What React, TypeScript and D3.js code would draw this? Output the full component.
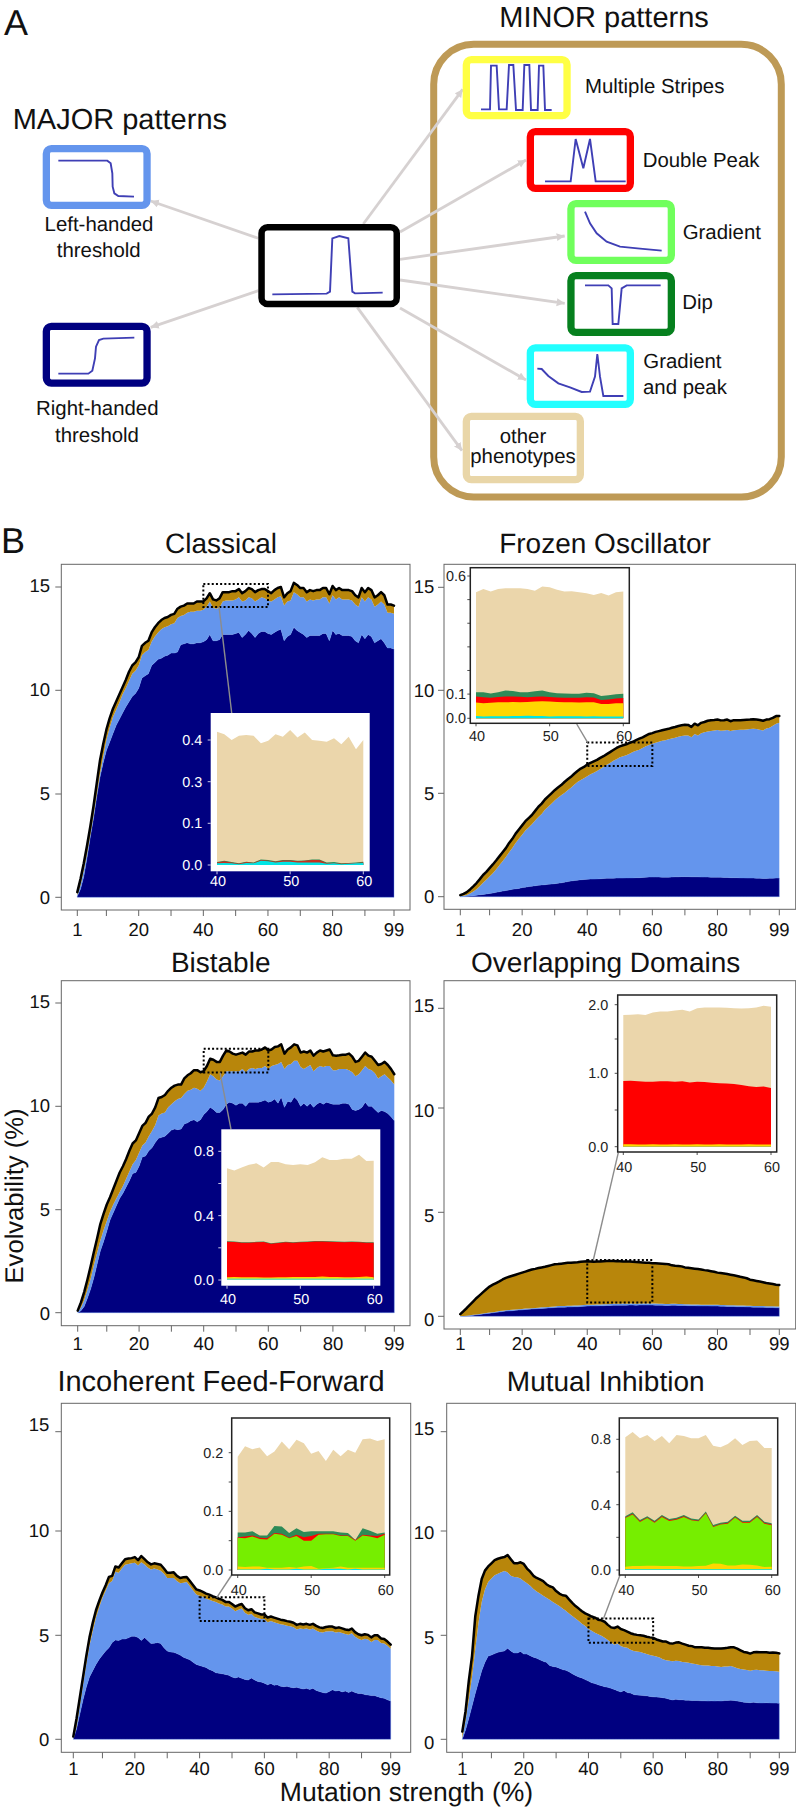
import React from "react";
import * as d3 from "d3";

const FONT = "'Liberation Sans', Arial, sans-serif";
const NAVY = "#000080";
const BLUE = "#6495ED";
const BROWN = "#B8860B";
const WHEAT = "#EBD6AB";
const TURQ = "#00E5E5";
const GOLD = "#FFD700";
const LIME = "#76EE00";
const RED = "#FF0000";
const SEA = "#2E8B57";

const strengths = d3.range(1, 100);
const insetStrengths = d3.range(40, 61);
const xTickValues = [1, 10, 20, 30, 40, 50, 60, 70, 80, 90, 99];
const xTickLabels = [1, 20, 40, 60, 80, 99];
const yTickValues = [0, 5, 10, 15];

// ---- Classical
const classicalTotal = [
  0.25,0.9,1.65,2.5,3.4,4.4,5.5,6.6,7.4,8.1,
  8.65,9.1,9.45,9.8,10.15,10.5,10.9,11.2,11.35,11.6,
  12.15,12.3,12.4,12.8,13.05,13.25,13.4,13.5,13.55,13.65,
  13.7,13.95,14.05,14.1,14.2,14.2,14.2,14.3,14.3,14.3,
  14.45,14.7,14.4,14.35,14.45,14.75,14.75,14.75,14.8,14.8,
  14.9,14.7,14.8,14.95,14.9,14.75,14.85,14.9,14.9,14.8,
  14.7,14.85,14.95,15.0,14.5,14.7,14.8,15.2,15.1,14.95,
  14.95,14.75,14.85,14.8,14.85,14.85,14.95,14.95,14.65,15.05,
  14.85,14.95,14.85,14.85,14.85,14.8,14.6,14.5,14.95,14.75,
  14.95,14.85,14.5,14.6,14.75,14.6,14.15,14.15,14.1];
const classicalBlue = [
  0.1,0.6,1.3,2.1,3.0,3.95,4.95,5.95,6.8,7.6,
  8.2,8.7,9.05,9.4,9.8,10.1,10.45,10.8,10.95,11.2,
  11.7,11.85,11.95,12.35,12.6,12.8,12.95,13.05,13.1,13.2,
  13.25,13.5,13.6,13.65,13.75,13.8,13.8,13.85,13.85,13.9,
  14.05,14.3,14.0,13.95,14.0,14.3,14.35,14.35,14.35,14.4,
  14.5,14.3,14.35,14.5,14.45,14.3,14.4,14.5,14.45,14.35,
  14.3,14.4,14.5,14.55,14.1,14.3,14.35,14.75,14.65,14.5,
  14.5,14.3,14.4,14.35,14.4,14.4,14.5,14.5,14.2,14.6,
  14.4,14.5,14.4,14.4,14.4,14.35,14.15,14.05,14.5,14.3,
  14.5,14.4,14.05,14.15,14.3,14.15,13.75,13.75,13.7];
const classicalNavy = [
  0.05,0.4,1.0,1.9,2.9,3.8,4.85,5.8,6.5,7.1,
  7.5,7.9,8.3,8.6,8.9,9.2,9.45,9.7,9.85,10.1,
  10.6,10.7,10.8,11.2,11.35,11.5,11.55,11.65,11.7,11.8,
  11.8,11.85,12.2,12.25,12.3,12.25,12.25,12.3,12.3,12.35,
  12.45,12.7,12.4,12.4,12.45,12.7,12.7,12.7,12.7,12.75,
  12.8,12.55,12.7,12.9,12.75,12.55,12.75,12.85,12.85,12.75,
  12.7,12.8,12.9,12.95,12.4,12.6,12.7,13.05,12.9,12.8,
  12.7,12.55,12.65,12.65,12.65,12.65,12.75,12.75,12.4,12.9,
  12.7,12.75,12.65,12.65,12.65,12.6,12.4,12.3,12.7,12.5,
  12.7,12.6,12.3,12.4,12.5,12.3,12.05,12.05,12.0];

// ---- Frozen Oscillator
const frozenTotal = [
  0.08,0.14,0.22,0.35,0.5,0.66,0.85,1.05,1.2,1.38,
  1.56,1.75,1.95,2.15,2.35,2.6,2.8,3.05,3.25,3.45,
  3.65,3.8,3.95,4.15,4.35,4.5,4.7,4.85,5.0,5.15,
  5.28,5.4,5.55,5.68,5.8,5.95,6.08,6.2,6.28,6.4,
  6.48,6.55,6.62,6.72,6.8,6.9,7.0,7.1,7.2,7.28,
  7.33,7.38,7.45,7.5,7.58,7.65,7.72,7.8,7.88,7.92,
  7.98,8.02,8.06,8.1,8.13,8.18,8.22,8.27,8.3,8.33,
  8.32,8.22,8.38,8.3,8.42,8.46,8.52,8.55,8.56,8.58,
  8.54,8.55,8.58,8.5,8.55,8.55,8.55,8.56,8.57,8.58,
  8.6,8.58,8.56,8.52,8.58,8.6,8.66,8.75,8.75];
const frozenBlue = [
  0.02,0.04,0.08,0.15,0.25,0.36,0.5,0.68,0.82,0.98,
  1.14,1.32,1.52,1.72,1.92,2.15,2.35,2.6,2.8,3.0,
  3.2,3.35,3.5,3.68,3.85,4.0,4.2,4.35,4.5,4.65,
  4.78,4.9,5.02,5.15,5.27,5.42,5.55,5.65,5.73,5.83,
  5.93,6.0,6.08,6.18,6.28,6.38,6.47,6.58,6.65,6.75,
  6.8,6.85,6.92,7.0,7.06,7.12,7.2,7.28,7.35,7.4,
  7.45,7.5,7.55,7.58,7.62,7.66,7.7,7.75,7.78,7.8,
  7.8,7.72,7.88,7.8,7.92,7.96,8.0,8.03,8.05,8.07,
  8.04,8.05,8.07,8.02,8.06,8.07,8.08,8.09,8.1,8.12,
  8.13,8.12,8.08,8.05,8.15,8.18,8.28,8.38,8.42];
const frozenNavy = [
  0,0.01,0.02,0.03,0.05,0.07,0.09,0.11,0.13,0.16,
  0.18,0.21,0.24,0.27,0.3,0.33,0.36,0.38,0.4,0.44,
  0.46,0.49,0.51,0.53,0.55,0.57,0.58,0.6,0.61,0.63,
  0.65,0.67,0.7,0.73,0.76,0.78,0.8,0.82,0.83,0.84,
  0.85,0.85,0.86,0.87,0.88,0.89,0.89,0.89,0.9,0.9,
  0.9,0.91,0.91,0.91,0.92,0.92,0.93,0.94,0.95,0.95,
  0.95,0.95,0.94,0.94,0.94,0.95,0.96,0.96,0.97,0.97,
  0.97,0.96,0.96,0.96,0.95,0.95,0.95,0.94,0.94,0.94,
  0.94,0.93,0.93,0.92,0.92,0.92,0.91,0.91,0.9,0.9,
  0.9,0.89,0.89,0.88,0.88,0.89,0.89,0.9,0.9];

// ---- Bistable
const bistableTotal = [
  0.1,0.5,1.0,1.6,2.25,2.95,3.6,4.3,4.8,5.25,
  5.6,6.0,6.4,6.8,7.1,7.45,7.85,8.2,8.35,8.7,
  9.05,9.2,9.5,9.65,9.95,10.4,10.45,10.55,10.75,10.9,
  11.0,11.05,11.05,11.35,11.5,11.6,11.75,11.75,11.65,11.7,
  11.95,12.3,12.25,12.15,12.15,12.45,12.7,12.65,12.55,12.5,
  12.55,12.6,12.5,12.65,12.65,12.7,12.7,12.75,12.85,12.7,
  12.75,12.87,12.9,13.0,12.55,12.75,12.85,13.0,12.95,12.6,
  12.65,12.6,12.7,12.45,12.6,12.7,12.65,12.7,12.75,12.47,
  12.45,12.47,12.5,12.5,12.55,12.4,12.15,12.2,12.4,12.6,
  12.45,12.4,12.2,12.0,12.05,12.15,12.0,11.8,11.55];
const bistableBlue = [
  0.03,0.25,0.6,1.1,1.65,2.3,2.9,3.5,4.0,4.45,
  4.9,5.25,5.55,5.85,6.15,6.5,6.85,7.2,7.4,7.75,
  8.1,8.25,8.55,8.8,9.1,9.55,9.65,9.7,9.95,10.1,
  10.25,10.35,10.4,10.6,10.75,10.8,10.9,10.85,10.75,10.9,
  11.2,11.55,11.45,11.3,11.25,11.45,11.7,11.7,11.7,11.7,
  11.7,11.8,11.65,11.8,11.85,11.8,11.85,11.85,11.95,11.8,
  11.95,12.0,12.05,12.15,11.8,12.0,12.05,12.2,12.2,11.9,
  11.8,11.9,12.0,11.7,11.85,11.95,11.9,11.95,11.95,11.75,
  11.75,11.8,11.8,11.8,11.75,11.65,11.45,11.55,11.75,11.95,
  11.8,11.75,11.6,11.35,11.45,11.55,11.4,11.25,11.05];
const bistableNavy = [
  0.0,0.1,0.3,0.7,1.15,1.7,2.35,3.0,3.45,3.95,
  4.5,4.85,5.2,5.55,5.8,6.1,6.4,6.75,6.8,7.1,
  7.55,7.6,7.85,8.0,8.25,8.45,8.5,8.55,8.7,8.85,
  8.9,8.87,8.9,9.15,9.2,9.3,9.35,9.25,9.35,9.6,
  9.75,9.95,9.85,9.7,9.7,9.85,10.1,10.2,10.15,10.05,
  10.15,10.15,10.0,10.2,10.2,10.2,10.2,10.25,10.3,10.2,
  10.25,10.35,10.15,10.45,9.95,10.25,10.2,10.45,10.3,10.0,
  10.15,10.0,10.15,9.95,10.1,10.2,10.1,10.2,10.15,10.1,
  10.1,10.1,10.15,10.15,10.1,9.85,9.8,9.85,9.95,10.2,
  10.0,10.0,9.85,9.7,9.8,9.75,9.65,9.5,9.3];

// ---- Overlapping Domains
const overlapTotal = [
  0.1,0.25,0.4,0.56,0.72,0.88,1.02,1.16,1.3,1.43,
  1.52,1.6,1.68,1.77,1.85,1.9,1.95,2.0,2.05,2.1,
  2.15,2.2,2.25,2.28,2.32,2.35,2.38,2.42,2.46,2.5,
  2.51,2.53,2.55,2.57,2.58,2.59,2.6,2.62,2.64,2.65,
  2.64,2.62,2.63,2.64,2.65,2.66,2.66,2.66,2.65,2.65,
  2.64,2.63,2.63,2.62,2.61,2.6,2.59,2.58,2.57,2.55,
  2.55,2.54,2.53,2.52,2.5,2.45,2.43,2.42,2.4,2.35,
  2.33,2.31,2.29,2.27,2.25,2.22,2.2,2.17,2.14,2.1,
  2.08,2.06,2.03,2.0,1.97,1.94,1.9,1.87,1.83,1.76,
  1.73,1.7,1.67,1.64,1.6,1.58,1.55,1.52,1.5];
const overlapBlue = [
  0.01,0.02,0.03,0.05,0.07,0.09,0.11,0.13,0.16,0.18,
  0.2,0.22,0.25,0.27,0.29,0.3,0.31,0.33,0.34,0.35,
  0.37,0.38,0.39,0.4,0.41,0.43,0.44,0.45,0.46,0.47,
  0.49,0.5,0.5,0.51,0.51,0.52,0.52,0.53,0.54,0.55,
  0.56,0.56,0.57,0.57,0.58,0.58,0.59,0.6,0.6,0.6,
  0.61,0.6,0.61,0.61,0.6,0.61,0.62,0.62,0.62,0.62,
  0.61,0.6,0.6,0.59,0.59,0.6,0.6,0.59,0.59,0.58,
  0.58,0.57,0.57,0.57,0.56,0.56,0.56,0.55,0.55,0.55,
  0.54,0.54,0.53,0.53,0.53,0.52,0.52,0.52,0.51,0.51,
  0.5,0.5,0.49,0.49,0.48,0.48,0.48,0.47,0.47];
const overlapNavy = [
  0,0.01,0.02,0.03,0.05,0.07,0.09,0.11,0.13,0.15,
  0.17,0.19,0.21,0.23,0.25,0.26,0.27,0.29,0.3,0.31,
  0.33,0.34,0.35,0.36,0.37,0.38,0.39,0.4,0.41,0.42,
  0.43,0.44,0.44,0.45,0.45,0.46,0.46,0.47,0.48,0.49,
  0.5,0.5,0.5,0.51,0.51,0.52,0.52,0.53,0.53,0.53,
  0.53,0.53,0.54,0.54,0.53,0.54,0.54,0.54,0.54,0.54,
  0.53,0.53,0.53,0.52,0.52,0.53,0.53,0.52,0.52,0.52,
  0.51,0.51,0.51,0.5,0.5,0.5,0.5,0.49,0.49,0.49,
  0.48,0.48,0.47,0.47,0.47,0.46,0.46,0.46,0.45,0.45,
  0.44,0.44,0.43,0.43,0.42,0.42,0.42,0.41,0.41];

// ---- Incoherent Feed-Forward
const iffTotal = [
  0.13,1.0,2.0,3.0,4.0,4.9,5.6,6.2,6.65,7.05,
  7.4,7.8,7.85,8.3,8.25,8.45,8.65,8.68,8.7,8.75,
  8.6,8.8,8.65,8.5,8.4,8.45,8.42,8.38,8.2,8.0,
  8.0,8.02,7.85,7.75,7.78,7.8,7.6,7.4,7.2,7.15,
  7.08,7.0,6.95,6.88,6.82,6.75,6.7,6.6,6.6,6.5,
  6.38,6.45,6.5,6.3,6.2,6.25,6.1,6.05,6.0,6.0,
  5.85,5.9,5.85,5.8,5.75,5.72,5.68,5.65,5.6,5.5,
  5.55,5.52,5.55,5.5,5.55,5.45,5.38,5.35,5.4,5.42,
  5.42,5.35,5.38,5.33,5.28,5.25,5.32,5.15,5.05,5.0,
  5.05,5.02,4.9,5.0,5.0,4.85,4.82,4.7,4.55];
const iffBlue = [
  0.03,0.6,1.6,2.6,3.6,4.5,5.2,5.85,6.35,6.8,
  7.15,7.5,7.6,8.05,8.0,8.2,8.38,8.42,8.45,8.48,
  8.35,8.5,8.4,8.25,8.15,8.2,8.15,8.1,7.95,7.75,
  7.75,7.75,7.6,7.5,7.52,7.55,7.35,7.15,6.95,6.9,
  6.85,6.75,6.7,6.65,6.6,6.52,6.48,6.38,6.38,6.28,
  6.15,6.22,6.28,6.08,5.98,6.02,5.88,5.83,5.78,5.78,
  5.63,5.68,5.63,5.58,5.53,5.5,5.46,5.43,5.38,5.28,
  5.33,5.3,5.33,5.28,5.33,5.23,5.16,5.13,5.18,5.2,
  5.2,5.13,5.16,5.11,5.06,5.03,5.1,4.93,4.83,4.78,
  4.83,4.8,4.68,4.78,4.78,4.63,4.6,4.5,4.35];
const iffNavy = [
  0,0.5,1.2,1.9,2.5,3.0,3.3,3.6,3.85,4.05,
  4.25,4.4,4.65,4.78,4.75,4.82,4.82,4.88,4.95,4.95,
  4.9,4.75,4.9,4.75,4.6,4.62,4.65,4.6,4.4,4.25,
  4.2,4.18,4.12,4.05,3.95,3.88,3.82,3.7,3.6,3.55,
  3.5,3.45,3.35,3.3,3.2,3.17,3.15,3.12,3.08,3.0,
  2.95,3.0,2.93,2.88,2.85,2.95,2.85,2.78,2.75,2.7,
  2.62,2.68,2.6,2.62,2.55,2.53,2.55,2.5,2.48,2.5,
  2.45,2.42,2.45,2.4,2.45,2.35,2.3,2.25,2.22,2.3,
  2.38,2.32,2.35,2.28,2.32,2.25,2.32,2.25,2.2,2.2,
  2.15,2.13,2.1,2.1,2.05,2.0,1.97,1.9,1.84];

// ---- Mutual Inhibtion
const mutualTotal = [
  0.37,1.35,2.8,4.0,5.9,6.9,7.7,8.1,8.3,8.45,
  8.6,8.67,8.72,8.75,8.85,8.65,8.45,8.45,8.5,8.42,
  8.2,8.05,7.85,7.75,7.68,7.6,7.45,7.35,7.3,7.12,
  7.0,6.92,6.9,6.72,6.55,6.4,6.28,6.15,6.05,5.98,
  5.9,5.85,5.75,5.72,5.65,5.5,5.38,5.35,5.42,5.3,
  5.25,5.18,5.1,5.05,5.02,5.0,4.98,4.93,4.9,4.88,
  4.8,4.75,4.7,4.7,4.62,4.6,4.65,4.66,4.6,4.55,
  4.5,4.48,4.42,4.42,4.42,4.4,4.4,4.38,4.36,4.36,
  4.36,4.38,4.4,4.43,4.42,4.36,4.28,4.2,4.17,4.12,
  4.18,4.2,4.18,4.18,4.18,4.16,4.17,4.16,4.13];
const mutualBlue = [
  0.05,0.9,1.9,3.0,4.3,5.6,6.6,7.2,7.55,7.72,
  7.88,7.95,8.02,8.08,8.02,7.85,7.8,7.78,7.72,7.6,
  7.5,7.38,7.22,7.1,7.0,6.9,6.8,6.7,6.6,6.5,
  6.4,6.28,6.18,6.05,5.92,5.8,5.68,5.55,5.45,5.3,
  5.22,5.12,5.05,4.98,4.88,4.78,4.65,4.55,4.6,4.48,
  4.42,4.4,4.3,4.25,4.22,4.2,4.15,4.1,4.05,4.02,
  3.98,3.93,3.85,3.8,3.78,3.75,3.78,3.77,3.72,3.7,
  3.68,3.64,3.62,3.58,3.56,3.55,3.55,3.52,3.52,3.5,
  3.48,3.5,3.5,3.52,3.48,3.42,3.38,3.35,3.33,3.3,
  3.33,3.34,3.32,3.32,3.3,3.28,3.28,3.27,3.25];
const mutualNavy = [
  0,0.45,1.0,1.6,2.2,2.75,3.3,3.7,4.0,4.05,
  4.12,4.18,4.22,4.25,4.38,4.25,4.15,4.15,4.22,4.1,
  4.1,4.02,3.95,3.9,3.82,3.75,3.7,3.55,3.5,3.48,
  3.42,3.35,3.32,3.25,3.15,3.07,3.0,2.95,2.87,2.8,
  2.72,2.68,2.62,2.58,2.53,2.5,2.45,2.4,2.33,2.28,
  2.35,2.25,2.22,2.15,2.13,2.12,2.1,2.09,2.06,2.04,
  2.03,2.02,2.0,1.97,1.93,1.89,1.92,1.9,1.9,1.88,
  1.88,1.86,1.87,1.86,1.85,1.85,1.84,1.85,1.84,1.85,
  1.84,1.86,1.87,1.88,1.87,1.84,1.82,1.78,1.77,1.76,
  1.78,1.76,1.75,1.75,1.76,1.75,1.74,1.74,1.73];

// ---- inset layers (cumulative tops, x = 40..60)
const inClassicalCyan = [.004,.005,.004,.002,.005,.004,.01,.009,.006,.008,.008,.006,.006,.006,.006,.003,.004,.002,.003,.004,.005];
const inClassicalRed = [.006,.009,.006,.003,.007,.005,.012,.01,.008,.011,.011,.009,.01,.012,.012,.004,.005,.003,.004,.005,.006];
const inClassicalSea = [.007,.01,.007,.004,.008,.006,.013,.012,.009,.012,.012,.01,.011,.013,.013,.006,.007,.004,.005,.006,.008];
const inClassicalWheat = [.42,.414,.40,.41,.412,.41,.392,.398,.414,.408,.424,.406,.418,.40,.398,.396,.404,.39,.408,.378,.40];

const inFrozenCyan = [.009,.007,.008,.008,.008,.009,.01,.011,.01,.009,.007,.008,.008,.008,.008,.007,.008,.007,.007,.007,.007];
const inFrozenGold = [.065,.062,.064,.066,.066,.067,.066,.067,.069,.07,.069,.067,.066,.066,.065,.066,.066,.059,.059,.062,.062];
const inFrozenRed = [.09,.087,.085,.088,.09,.09,.089,.087,.089,.09,.088,.086,.085,.085,.085,.087,.086,.076,.078,.082,.084];
const inFrozenSea = [.108,.108,.103,.108,.115,.113,.108,.108,.112,.115,.108,.104,.103,.102,.101,.106,.104,.092,.095,.099,.101];
const inFrozenWheat = [.531,.545,.534,.545,.548,.548,.548,.545,.538,.556,.552,.542,.534,.535,.531,.527,.52,.528,.517,.531,.534];

const inBistableCyan = [.009,.009,.009,.01,.009,.009,.009,.01,.009,.009,.009,.01,.01,.009,.009,.01,.009,.009,.009,.01,.009];
const inBistableGold = [.017,.019,.017,.017,.017,.015,.015,.017,.017,.019,.019,.019,.019,.021,.019,.019,.017,.017,.019,.021,.017];
const inBistableRed = [.238,.236,.232,.232,.234,.236,.226,.23,.234,.232,.234,.236,.24,.24,.238,.236,.234,.236,.234,.232,.232];
const inBistableSea = [.241,.239,.235,.235,.237,.239,.229,.233,.237,.235,.237,.239,.243,.243,.241,.239,.237,.239,.237,.235,.235];
const inBistableWheat = [.694,.68,.70,.717,.725,.70,.734,.734,.719,.715,.719,.715,.732,.763,.746,.746,.754,.754,.779,.74,.742];

const inOverlapCyan = [.003,.003,.003,.003,.003,.003,.003,.003,.003,.003,.003,.003,.003,.003,.003,.003,.003,.003,.003,.003,.003];
const inOverlapGold = [.035,.032,.03,.03,.032,.03,.03,.032,.03,.03,.032,.03,.03,.032,.03,.03,.03,.032,.03,.03,.03];
const inOverlapRed = [.895,.9,.89,.885,.885,.89,.89,.885,.89,.875,.885,.88,.87,.865,.86,.855,.84,.825,.815,.82,.8];
const inOverlapWheat = [1.85,1.855,1.86,1.85,1.885,1.9,1.9,1.915,1.925,1.9,1.95,1.96,1.96,1.96,1.955,1.95,1.945,1.95,1.96,1.985,1.97];

const inIffCyan = [.001,.001,.001,.001,.002,.001,.001,.001,.002,.001,.001,.001,.002,.002,.002,.001,.002,.001,.001,.001,.001];
const inIffGold = [.006,.005,.006,.006,.004,.004,.004,.005,.004,.006,.007,.002,.003,.004,.006,.004,.004,.004,.004,.004,.004];
const inIffLime = [.055,.054,.057,.053,.052,.062,.06,.054,.058,.05,.05,.06,.061,.061,.058,.058,.05,.059,.057,.054,.06];
const inIffRed = [.056,.057,.059,.055,.054,.063,.062,.055,.06,.056,.058,.062,.062,.062,.059,.059,.051,.06,.059,.058,.062];
const inIffSea = [.064,.064,.066,.059,.059,.075,.074,.063,.071,.065,.066,.066,.066,.066,.064,.063,.051,.071,.067,.062,.064];
const inIffWheat = [.193,.211,.206,.209,.194,.202,.219,.206,.222,.216,.198,.203,.186,.205,.194,.205,.2,.223,.224,.22,.223];

const inMutualCyan = [.004,.004,.004,.005,.005,.004,.004,.004,.004,.004,.004,.004,.004,.004,.004,.004,.004,.004,.004,.004,.004];
const inMutualGold = [.02,.024,.024,.026,.026,.024,.024,.024,.022,.022,.024,.026,.04,.038,.028,.028,.034,.032,.028,.018,.02];
const inMutualLime = [.318,.34,.294,.318,.29,.325,.3,.308,.325,.304,.298,.347,.263,.278,.284,.321,.29,.29,.325,.284,.274];
const inMutualRed = [.322,.344,.298,.322,.294,.329,.304,.312,.329,.308,.302,.351,.267,.282,.288,.325,.294,.294,.329,.288,.278];
const inMutualSea = [.33,.353,.306,.33,.302,.337,.312,.32,.337,.316,.31,.359,.275,.29,.296,.333,.302,.302,.337,.296,.286];
const inMutualWheat = [.812,.845,.806,.827,.79,.82,.776,.827,.82,.806,.806,.827,.76,.751,.771,.806,.765,.79,.792,.747,.747];

type Layer = { color: string; tops: number[] };
const classicalLayers: Layer[] = [
  { color: WHEAT, tops: inClassicalWheat }, { color: SEA, tops: inClassicalSea },
  { color: "#C8301E", tops: inClassicalRed }, { color: TURQ, tops: inClassicalCyan }];
const frozenLayers: Layer[] = [
  { color: WHEAT, tops: inFrozenWheat }, { color: SEA, tops: inFrozenSea }, { color: RED, tops: inFrozenRed },
  { color: GOLD, tops: inFrozenGold }, { color: TURQ, tops: inFrozenCyan }];
const bistableLayers: Layer[] = [
  { color: WHEAT, tops: inBistableWheat }, { color: SEA, tops: inBistableSea }, { color: RED, tops: inBistableRed },
  { color: GOLD, tops: inBistableGold }, { color: "#6FE0B0", tops: inBistableCyan }];
const overlapLayers: Layer[] = [
  { color: WHEAT, tops: inOverlapWheat }, { color: RED, tops: inOverlapRed },
  { color: GOLD, tops: inOverlapGold }, { color: TURQ, tops: inOverlapCyan }];
const iffLayers: Layer[] = [
  { color: WHEAT, tops: inIffWheat }, { color: SEA, tops: inIffSea }, { color: RED, tops: inIffRed },
  { color: LIME, tops: inIffLime }, { color: GOLD, tops: inIffGold }, { color: TURQ, tops: inIffCyan }];
const mutualLayers: Layer[] = [
  { color: WHEAT, tops: inMutualWheat }, { color: SEA, tops: inMutualSea }, { color: RED, tops: inMutualRed },
  { color: LIME, tops: inMutualLime }, { color: GOLD, tops: inMutualGold }, { color: TURQ, tops: inMutualCyan }];

type Inset = {
  layers: Layer[]; white: boolean;
  frame: [number, number, number, number]; // x0,y0,x1,y1
  xRange: [number, number];
  yDomain: number[]; yRange: number[];
  ticks: number[]; labels: number[];
  labelGap: number; xLabelDy: number;
  conn: [number, number, number, number];
};
type Panel = {
  title: string; titleX: number; titleY: number;
  frame: [number, number, number, number];
  xRange: [number, number];
  yRange: number[];
  labelRight: number; labelDy: number[]; xLabelY: number;
  total: number[]; blue: number[]; navy: number[];
  band: [number, number];
  inset: Inset;
};

const panels: Panel[] = [
  { title: "Classical", titleX: 221, titleY: 553, frame: [61.3, 564.3, 410, 910], xRange: [77.3, 394],
    yRange: [897.3, 794, 690.3, 587], labelRight: 50, labelDy: [0, -0.7, -0.7, -2], xLabelY: 936,
    total: classicalTotal, blue: classicalBlue, navy: classicalNavy, band: [15.15, 14.03],
    inset: { layers: classicalLayers, white: true, frame: [210.7, 713, 369.7, 871.3], xRange: [217, 363.3],
      yDomain: [0, 0.1, 0.3, 0.4], yRange: [865, 823.3, 781.7, 740], ticks: [0, 0.1, 0.3, 0.4], labels: [0, 0.1, 0.3, 0.4],
      labelGap: 8.4, xLabelDy: 15, conn: [219, 606.7, 231.7, 713] } },
  { title: "Frozen Oscillator", titleX: 605, titleY: 553.3, frame: [444, 564.3, 795.7, 909.3], xRange: [460.3, 779.3],
    yRange: [896.7, 793.3, 690.3, 587.3], labelRight: 434.3, labelDy: [0, 0, 0, -0.7], xLabelY: 936,
    total: frozenTotal, blue: frozenBlue, navy: frozenNavy, band: [7.46, 6.33],
    inset: { layers: frozenLayers, white: false, frame: [470.3, 567.7, 629.3, 723.3], xRange: [476, 623.3],
      yDomain: [0, 0.1, 0.6], yRange: [718.3, 694.1, 576], ticks: [0, 0.1, 0.2, 0.3, 0.4, 0.5, 0.6], labels: [0, 0.1, 0.6],
      labelGap: 4.3, xLabelDy: 17.5, conn: [576.7, 724, 587.7, 742.7] } },
  { title: "Bistable", titleX: 220.7, titleY: 971.7, frame: [61.3, 980.7, 410, 1325.7], xRange: [77.7, 394.3],
    yRange: [1312.7, 1209.7, 1106.3, 1003], labelRight: 50, labelDy: [0.7, 0, -0.7, -1.3], xLabelY: 1350,
    total: bistableTotal, blue: bistableBlue, navy: bistableNavy, band: [12.78, 11.64],
    inset: { layers: bistableLayers, white: true, frame: [221.3, 1129.3, 380.3, 1285.7], xRange: [227, 373.7],
      yDomain: [0, 0.8], yRange: [1280, 1151.3], ticks: [0, 0.2, 0.4, 0.6, 0.8], labels: [0, 0.4, 0.8],
      labelGap: 7.3, xLabelDy: 18.3, conn: [220, 1072.7, 231, 1129.3] } },
  { title: "Overlapping Domains", titleX: 605.7, titleY: 971.7, frame: [444, 980.7, 795.7, 1329], xRange: [460.3, 779.3],
    yRange: [1316.3, 1212.3, 1108, 1008.3], labelRight: 434.3, labelDy: [3, 2.7, 2, -2.7], xLabelY: 1350,
    total: overlapTotal, blue: overlapBlue, navy: overlapNavy, band: [2.71, 0.66],
    inset: { layers: overlapLayers, white: false, frame: [617.7, 995, 776.7, 1152], xRange: [623.3, 771],
      yDomain: [0, 1, 2], yRange: [1146.7, 1073.3, 1004.7], ticks: [0, 0.5, 1, 1.5, 2], labels: [0, 1, 2],
      labelGap: 9.4, xLabelDy: 19.7, conn: [593.3, 1260, 618.3, 1152.7] } },
  { title: "Incoherent Feed-Forward", titleX: 221, titleY: 1391, frame: [61.3, 1403.3, 410.7, 1752.3], xRange: [73.3, 390.7],
    yRange: [1739.3, 1635.3, 1531, 1431.7], labelRight: 49.3, labelDy: [0, 0, -1, -7], xLabelY: 1775,
    total: iffTotal, blue: iffBlue, navy: iffNavy, band: [6.83, 5.69],
    inset: { layers: iffLayers, white: false, frame: [231.7, 1418, 389.7, 1575], xRange: [237.7, 384.7],
      yDomain: [0, 0.2], yRange: [1570, 1452.7], ticks: [0, 0.05, 0.1, 0.15, 0.2], labels: [0, 0.1, 0.2],
      labelGap: 8.4, xLabelDy: 20, conn: [216.7, 1597.7, 231.7, 1575] } },
  { title: "Mutual Inhibtion", titleX: 605.7, titleY: 1391, frame: [446.7, 1403.3, 795.7, 1752.3], xRange: [462.3, 779.3],
    yRange: [1739.3, 1635.3, 1531, 1431.7], labelRight: 434.3, labelDy: [3.3, 2, 1.7, -3.3], xLabelY: 1775,
    total: mutualTotal, blue: mutualBlue, navy: mutualNavy, band: [5.8, 4.64],
    inset: { layers: mutualLayers, white: false, frame: [619.3, 1418, 777.7, 1575], xRange: [625.3, 771.7],
      yDomain: [0, 0.4, 0.8], yRange: [1570, 1504.7, 1439.3], ticks: [0, 0.2, 0.4, 0.6, 0.8], labels: [0, 0.4, 0.8],
      labelGap: 8.3, xLabelDy: 20, conn: [603.3, 1619.3, 620, 1575] } },
];

function InsetPlot({ inset }: { inset: Inset }) {
  const { frame, white } = inset;
  const x = d3.scaleLinear().domain([40, 60]).range(inset.xRange);
  const y = d3.scaleLinear().domain(inset.yDomain).range(inset.yRange);
  const ink = white ? "#fff" : "#222";
  return (
    <g>
      <rect x={frame[0]} y={frame[1]} width={frame[2] - frame[0]} height={frame[3] - frame[1]} fill="#fff"
        stroke={white ? "none" : "#222"} strokeWidth={1.5} />
      {inset.layers.map((l, k) => {
        const area = d3.area<number>().x((d) => x(d)).y0(y(0)).y1((_, i) => y(l.tops[i]));
        return <path key={k} d={area(insetStrengths) || ""} fill={l.color} />;
      })}
      {inset.ticks.map((t) => (
        <line key={t} x1={frame[0]} x2={frame[0] - 3} y1={y(t)} y2={y(t)} stroke={ink} strokeWidth={0.8} />
      ))}
      {inset.labels.map((t) => (
        <text key={t} x={frame[0] - inset.labelGap} y={y(t) + 5} textAnchor="end" fontSize={14.4} fill={ink}>{t.toFixed(1)}</text>
      ))}
      {[40, 50, 60].map((t) => (
        <g key={t}>
          <line x1={x(t)} x2={x(t)} y1={frame[3]} y2={frame[3] + 3} stroke={ink} strokeWidth={0.8} />
          <text x={x(t) + 1} y={frame[3] + inset.xLabelDy} textAnchor="middle" fontSize={14.4} fill={ink}>{t}</text>
        </g>
      ))}
    </g>
  );
}

function PanelPlot({ p }: { p: Panel }) {
  const [fx0, fy0, fx1, fy1] = p.frame;
  const x = d3.scaleLinear().domain([1, 99]).range(p.xRange);
  const y = d3.scaleLinear().domain(yTickValues).range(p.yRange);
  const band = (lo: number[], hi: number[]) =>
    d3.area<number>().x((d) => x(d)).y0((_, i) => y(lo[i])).y1((_, i) => y(hi[i]))(strengths) || "";
  const zeros = strengths.map(() => 0);
  const line = d3.line<number>().x((d) => x(d)).y((_, i) => y(p.total[i]))(strengths) || "";
  const cn = p.inset.conn;
  return (
    <g>
      <rect x={fx0} y={fy0} width={fx1 - fx0} height={fy1 - fy0} fill="#fff" stroke="#666" strokeWidth={1} />
      <path d={band(zeros, p.navy)} fill={NAVY} stroke={BLUE} strokeWidth={0.4} />
      <path d={band(p.navy, p.blue)} fill={BLUE} />
      <path d={band(p.blue, p.total)} fill={BROWN} />
      <path d={line} fill="none" stroke="#000" strokeWidth={2.5} strokeLinejoin="round" strokeLinecap="round" />
      <rect x={x(40)} y={y(p.band[0])} width={x(60) - x(40)} height={y(p.band[1]) - y(p.band[0])} fill="none"
        stroke="#000" strokeWidth={2} strokeDasharray="2 2.2" />
      <line x1={cn[0]} y1={cn[1]} x2={cn[2]} y2={cn[3]} stroke="#8c8c8c" strokeWidth={1.4} />
      {yTickValues.map((t, i) => (
        <g key={t}>
          <line x1={fx0} x2={fx0 - 6} y1={y(t)} y2={y(t)} stroke="#666" strokeWidth={1} />
          <text x={p.labelRight} y={y(t) + p.labelDy[i] + 6.5} textAnchor="end" fontSize={18.5} fill="#111">{t}</text>
        </g>
      ))}
      {xTickValues.map((t) => (
        <line key={t} x1={x(t)} x2={x(t)} y1={fy1} y2={fy1 + 6} stroke="#666" strokeWidth={1} />
      ))}
      {xTickLabels.map((t) => (
        <text key={t} x={x(t)} y={p.xLabelY} textAnchor="middle" fontSize={18.5} fill="#111">{t}</text>
      ))}
      <text x={p.titleX} y={p.titleY} textAnchor="middle" fontSize={p.title.length > 20 ? 29 : 28} fill="#111">{p.title}</text>
      <InsetPlot inset={p.inset} />
    </g>
  );
}

// ---- schematic part A: sketched response curves, in 3x crop units
const sLeft = [[175,482],[322,482],[332,490],[337,520],[338,560],[343,580],[355,588],[402,590]];
const sRight = [[175,1121],[265,1121],[277,1112],[285,1075],[288,1040],[297,1020],[310,1016],[403,1013]];
const sCenter = [[817,883],[980,881],[990,875],[997,715],[1018,708],[1045,715],[1057,875],[1065,880],[1148,878]];
const sStripes = [[243,328],[270,328],[273,197],[290,197],[297,328],[320,328],[327,195],[340,195],[348,330],[368,330],[373,195],[388,195],[393,330],[413,330],[417,197],[430,197],[435,330],[455,330]];
const sDouble = [[435,544],[512,544],[527,417],[550,505],[570,417],[587,544],[677,544]];
const sGradient = [[555,635],[570,670],[590,700],[620,725],[660,740],[720,746],[785,752]];
const sDip = [[555,856],[625,856],[635,865],[638,972],[655,972],[665,865],[680,856],[782,856]];
const sGradPeak = [[412,1106],[425,1107],[445,1128],[475,1150],[510,1162],[545,1176],[570,1175],[585,1130],[592,1062],[600,1130],[610,1188],[670,1188]];

const sx = d3.scaleLinear().domain([0, 3]).range([0, 1]);
const sparkLeft = d3.line<number[]>().x((d) => sx(d[0])).y((d) => sx(d[1]));
const sparkRight = d3.line<number[]>().x((d) => 400 + sx(d[0])).y((d) => sx(d[1]));

type Box = { x0: number; y0: number; x1: number; y1: number; color: string; sw: number; r: number };
const boxes: Box[] = [
  { x0: 42.7, y0: 145, x1: 150.7, y1: 209, color: "#6495ED", sw: 7.3, r: 5 },
  { x0: 42.7, y0: 322.7, x1: 150.7, y1: 386.7, color: "#000080", sw: 7.3, r: 5 },
  { x0: 258.3, y0: 224, x1: 400, y1: 307.3, color: "#000", sw: 6.5, r: 6 },
  { x0: 462.7, y0: 56, x1: 570.7, y1: 119.3, color: "#FFFF44", sw: 7.3, r: 5 },
  { x0: 526.7, y0: 128, x1: 634, y1: 192, color: "#FF0000", sw: 7.3, r: 5 },
  { x0: 567.3, y0: 200, x1: 675, y1: 264, color: "#70FF5C", sw: 7.3, r: 5 },
  { x0: 567.3, y0: 272, x1: 675, y1: 336, color: "#06801E", sw: 7.3, r: 5 },
  { x0: 526.7, y0: 344.3, x1: 634, y1: 408, color: "#22FFFF", sw: 7.3, r: 5 },
  { x0: 462.7, y0: 412.7, x1: 584, y1: 483.3, color: "#E9D6A8", sw: 7.3, r: 5 },
];
const arrows = [
  [258.3, 238.3, 150.7, 201], [258.3, 290.7, 150.7, 327.3],
  [363.3, 224, 462.7, 89.3], [400, 232, 526, 160], [400, 259.3, 564.7, 236],
  [400, 280, 564.7, 303.3], [400, 308, 526, 380], [357.3, 307.3, 462, 450.7],
];

export default function App() {
  return (
    <svg width={796} height={1810} viewBox="0 0 796 1810" textRendering="geometricPrecision"
      style={{ position: "absolute", left: 0, top: 0, display: "block", background: "#fff" }} fontFamily={FONT}>
      <defs>
        <marker id="head" markerUnits="userSpaceOnUse" markerWidth={10} markerHeight={10} refX={8} refY={4} orient="auto">
          <path d="M0,0 L8,4 L0,8 Z" fill="#D6D1D1" />
        </marker>
      </defs>
      <text x={4} y={35} fontSize={36} fill="#111">A</text>
      <text x={1} y={553} fontSize={36} fill="#111">B</text>
      <text x={12.7} y={129} fontSize={29} fill="#111">MAJOR patterns</text>
      <text x={499.3} y={26.7} fontSize={29} fill="#111">MINOR patterns</text>

      <rect x={433.7} y={44.3} width={347.6} height={452.7} rx={40} fill="#fff" stroke="#BE9A56" strokeWidth={7} />
      {arrows.map((a, i) => (
        <line key={i} x1={a[0]} y1={a[1]} x2={a[2]} y2={a[3]} stroke="#D6D1D1" strokeWidth={2.8} markerEnd="url(#head)" />
      ))}
      {boxes.map((b, i) => (
        <rect key={i} x={b.x0 + b.sw / 2} y={b.y0 + b.sw / 2} width={b.x1 - b.x0 - b.sw} height={b.y1 - b.y0 - b.sw}
          rx={b.r} fill="#fff" stroke={b.color} strokeWidth={b.sw} />
      ))}
      {[sLeft, sRight, sCenter].map((s, i) => (
        <path key={i} d={sparkLeft(s) || ""} fill="none" stroke="#3F3FB5" strokeWidth={1.9} />
      ))}
      {[sStripes, sDouble, sGradient, sDip, sGradPeak].map((s, i) => (
        <path key={i} d={sparkRight(s) || ""} fill="none" stroke="#3F3FB5" strokeWidth={1.9} />
      ))}
      <g fontSize={20.4} fill="#111">
        <text x={99} y={231} textAnchor="middle">Left-handed</text>
        <text x={98.7} y={257.3} textAnchor="middle">threshold</text>
        <text x={97.3} y={415} textAnchor="middle">Right-handed</text>
        <text x={97} y={441.7} textAnchor="middle">threshold</text>
        <text x={585} y={93.3}>Multiple Stripes</text>
        <text x={642.7} y={166.7}>Double Peak</text>
        <text x={682.7} y={238.7}>Gradient</text>
        <text x={682.3} y={309.3}>Dip</text>
        <text x={643.3} y={368.3}>Gradient</text>
        <text x={643} y={394.3}>and peak</text>
        <text x={523} y={442.7} textAnchor="middle">other</text>
        <text x={523} y={462.7} textAnchor="middle">phenotypes</text>
      </g>

      {panels.map((p) => <PanelPlot key={p.title} p={p} />)}

      <text transform="translate(23,1196) rotate(-90)" textAnchor="middle" fontSize={25.6} fill="#111">Evolvability (%)</text>
      <text x={406.5} y={1800.7} textAnchor="middle" fontSize={26.5} fill="#111">Mutation strength (%)</text>
    </svg>
  );
}
